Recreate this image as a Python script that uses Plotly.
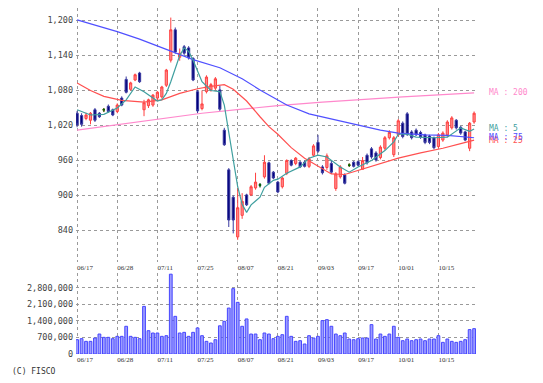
import plotly.graph_objects as go

# ---------------- data ----------------
dates = [
    "06/17", "06/18", "06/19", "06/20", "06/21", "06/24", "06/25", "06/26", "06/27", "06/28",
    "07/01", "07/02", "07/03", "07/04", "07/05", "07/08", "07/09", "07/10", "07/11", "07/12",
    "07/16", "07/17", "07/18", "07/19", "07/22", "07/23", "07/24", "07/25", "07/26", "07/29",
    "07/30", "07/31", "08/01", "08/02", "08/05", "08/06", "08/07", "08/08", "08/09", "08/13",
    "08/14", "08/15", "08/16", "08/19", "08/20", "08/21", "08/22", "08/23", "08/26", "08/27",
    "08/28", "08/29", "08/30", "09/02", "09/03", "09/04", "09/05", "09/06", "09/09", "09/10",
    "09/11", "09/12", "09/13", "09/17", "09/18", "09/19", "09/20", "09/24", "09/25", "09/26",
    "09/27", "09/30", "10/01", "10/02", "10/03", "10/04", "10/07", "10/08", "10/09", "10/10",
    "10/11", "10/15", "10/16", "10/17", "10/18", "10/21", "10/22", "10/23", "10/24", "10/25",
]

opens = [1041, 1037, 1032, 1029, 1047, 1041, 1047, 1053, 1047, 1044,
         1067, 1099, 1082, 1098, 1110, 1047, 1054, 1055, 1067, 1069,
         1089, 1132, 1184, 1137, 1155, 1153, 1135, 1078, 1049, 1078,
         1081, 1084, 1081, 1012, 944, 897, 829, 866, 901, 901,
         913, 918, 932, 956, 940, 923, 915, 938, 960, 955,
         957, 957, 950, 969, 991, 949, 948, 955, 912, 932,
         935, 952, 957, 958, 945, 969, 980, 973, 965, 981,
         999, 970, 1004, 1024, 1040, 1009, 1012, 1008, 1004, 1002,
         999, 984, 995, 1004, 1016, 1029, 1017, 1009, 981, 1026]
highs = [1045, 1041, 1042, 1043, 1050, 1043, 1050, 1056, 1049, 1058,
         1070, 1104, 1095, 1109, 1112, 1064, 1066, 1074, 1079, 1088,
         1117, 1205, 1188, 1152, 1158, 1156, 1137, 1081, 1080, 1106,
         1093, 1103, 1088, 1016, 947, 900, 913, 904, 903, 918,
         939, 921, 969, 958, 942, 925, 932, 962, 962, 966,
         959, 960, 966, 988, 1004, 952, 972, 960, 940, 952,
         938, 955, 959, 960, 966, 972, 983, 976, 986, 1002,
         1012, 1002, 1031, 1027, 1043, 1012, 1015, 1011, 1006, 1004,
         1001, 1007, 1010, 1029, 1036, 1031, 1019, 1011, 1026, 1044]
lows = [1017, 1018, 1029, 1022, 1026, 1033, 1043, 1042, 1036, 1041,
        1053, 1075, 1080, 1096, 1093, 1036, 1050, 1052, 1064, 1066,
        1086, 1128, 1143, 1131, 1141, 1133, 1096, 1041, 1046, 1075,
        1078, 1080, 1045, 985, 846, 835, 824, 860, 882, 899,
        910, 914, 929, 919, 928, 904, 912, 935, 950, 952,
        947, 948, 947, 966, 973, 936, 944, 937, 908, 929,
        919, 949, 948, 950, 945, 953, 963, 958, 962, 978,
        996, 966, 1001, 998, 1002, 996, 1002, 997, 988, 988,
        979, 981, 992, 1000, 1013, 1013, 1004, 993, 976, 1023]
closes = [1021, 1022, 1038, 1041, 1029, 1035, 1047, 1044, 1038, 1055,
          1055, 1077, 1093, 1107, 1095, 1059, 1064, 1072, 1077, 1086,
          1115, 1184, 1146, 1144, 1144, 1136, 1098, 1045, 1057, 1103,
          1090, 1100, 1048, 987, 858, 858, 879, 890, 884, 915,
          923, 918, 957, 921, 930, 906, 930, 960, 952, 964,
          949, 950, 963, 985, 976, 939, 968, 940, 937, 949,
          921, 952, 950, 952, 960, 956, 966, 961, 983, 999,
          1008, 999, 1028, 1001, 1005, 999, 1004, 1000, 991, 991,
          982, 1004, 1007, 1026, 1033, 1016, 1007, 995, 1024, 1041]

volumes = [604000, 647000, 534000, 534000, 675000, 843000, 703000, 703000, 647000, 745000,
           745000, 1170000, 745000, 703000, 647000, 2010000, 984000, 886000, 886000, 745000,
           773000, 3370000, 1590000, 886000, 914000, 745000, 914000, 1100000, 773000, 534000,
           464000, 604000, 1190000, 1380000, 1940000, 2760000, 2180000, 1170000, 1480000, 843000,
           843000, 604000, 886000, 843000, 647000, 745000, 815000, 1590000, 745000, 534000,
           562000, 422000, 773000, 675000, 745000, 1410000, 1450000, 1170000, 843000, 773000,
           886000, 633000, 604000, 647000, 675000, 675000, 1240000, 633000, 843000, 745000,
           843000, 1170000, 703000, 562000, 633000, 562000, 604000, 633000, 562000, 633000,
           633000, 773000, 492000, 633000, 534000, 492000, 534000, 604000, 1030000, 1070000]

# moving averages read at sample days (day index into `dates`)
ma5_days = [0, 3, 6, 9, 11, 13, 15, 18, 19, 20, 21, 23, 24, 25, 26, 27, 28, 30, 32, 33,
            34, 35, 36, 37, 38, 39, 41, 42, 44, 45, 47, 50, 52, 54, 56, 59, 61, 63, 66, 69,
            71, 72, 74, 76, 80, 83, 86, 88, 89]
ma5_vals = [1047, 1038, 1039, 1050, 1064, 1086, 1078, 1062, 1064, 1075, 1095, 1140, 1153, 1147, 1132, 1112, 1095, 1080, 1078, 1055,
            1010, 960, 915, 885, 871, 884, 897, 914, 926, 928, 938, 949, 964, 969, 966, 949, 940, 949, 960, 977,
            992, 1005, 1005, 1000, 999, 1000, 1016, 1010, 1014]

ma25_days = [0, 3, 6, 10, 15, 19, 23, 27, 30, 33, 35, 38, 41, 43, 45, 48, 51, 54, 57, 60,
             63, 67, 72, 77, 82, 86, 89]
ma25_vals = [1093, 1080, 1070, 1063, 1060, 1064, 1075, 1083, 1087, 1090, 1082, 1062, 1035, 1018, 1005, 982, 964, 951, 937, 936,
             943, 952, 964, 973, 981, 989, 995]

ma75_days = [0, 5, 9, 14, 20, 26, 32, 37, 41, 45, 47, 52, 56, 60, 64, 68, 72, 78, 83, 87, 89]
ma75_vals = [1201, 1190, 1181, 1168, 1150, 1133, 1119, 1100, 1081, 1064, 1055, 1040, 1033, 1026, 1019, 1012, 1007, 1004, 1003, 1000, 999]

ma200_days = [0, 10, 21, 28, 37, 45, 55, 64, 73, 82, 89]
ma200_vals = [1012, 1022, 1033, 1041, 1048, 1054, 1060, 1065, 1069, 1073, 1076]

tick_dates = ["06/17", "06/28", "07/11", "07/25", "08/07", "08/21", "09/03", "09/17", "10/01", "10/15"]
price_ticks = [840, 900, 960, 1020, 1080, 1140, 1200]
volume_ticks = [0, 700000, 1400000, 2100000, 2800000]

# ---------------- figure ----------------
idx = list(range(len(dates)))
doji = [i for i in idx if closes[i] == opens[i]]
tickvals = [dates.index(d) for d in tick_dates]

MONO = "DejaVu Sans Mono"
C_MA5 = "#3f9f9f"
C_MA25 = "#ff5050"
C_MA75 = "#5050ff"
C_MA200 = "#ff88cc"

fig = go.Figure()

fig.add_trace(go.Candlestick(
    x=idx, open=opens, high=highs, low=lows, close=closes,
    increasing=dict(line=dict(color="#ff4040", width=1), fillcolor="#ff8c8c"),
    decreasing=dict(line=dict(color="#3a3aa0", width=1), fillcolor="#00007a"),
    whiskerwidth=0, xaxis="x", yaxis="y", showlegend=False,
))
fig.add_trace(go.Candlestick(
    x=doji, open=[opens[i] for i in doji], high=[highs[i] for i in doji],
    low=[lows[i] for i in doji], close=[closes[i] for i in doji],
    increasing=dict(line=dict(color="#006a00", width=1), fillcolor="#006a00"),
    decreasing=dict(line=dict(color="#006a00", width=1), fillcolor="#006a00"),
    whiskerwidth=0, xaxis="x", yaxis="y", showlegend=False,
))

for days, vals, col in [(ma200_days, ma200_vals, C_MA200), (ma75_days, ma75_vals, C_MA75),
                        (ma25_days, ma25_vals, C_MA25), (ma5_days, ma5_vals, C_MA5)]:
    fig.add_trace(go.Scatter(x=days, y=vals, mode="lines", line=dict(color=col, width=1.2),
                             xaxis="x", yaxis="y", showlegend=False, hoverinfo="skip"))

fig.add_trace(go.Bar(
    x=idx, y=volumes, width=0.62,
    marker=dict(color="#9c9cff", line=dict(color="#4646ff", width=1)),
    xaxis="x2", yaxis="y2", showlegend=False,
))

grid = dict(showgrid=True, gridcolor="#9a9a9a", gridwidth=1, griddash="dot",
            zeroline=False, showline=False, ticks="")
date_font = dict(size=7, family=MONO + " Bold", color="#333333")

# the page body adds an 8px offset, so the figure is 8px smaller than the window
fig.update_layout(
    width=535, height=375,
    margin=dict(l=68, r=66, t=0, b=29),
    paper_bgcolor="white", plot_bgcolor="white",
    font=dict(family=MONO, color="#333333"),
    xaxis=dict(domain=[0, 1], anchor="y", range=[-0.25, 89.65], tickvals=tickvals, ticktext=tick_dates,
               tickfont=date_font, ticklabelposition="outside right",
               rangeslider=dict(visible=False), ticklabelstandoff=0, **grid),
    xaxis2=dict(domain=[0, 1], anchor="y2", matches="x", tickvals=tickvals, ticktext=tick_dates,
                tickfont=date_font, ticklabelposition="outside right",
                ticklabelstandoff=0, **grid),
    yaxis=dict(domain=[0.2659, 1], range=[786, 1221.4], tickvals=price_ticks, tickformat=",d",
               tickfont=dict(size=8.5, color="#444444"), ticklabelstandoff=2, **grid),
    yaxis2=dict(domain=[0, 0.2341], range=[0, 3420000], tickvals=volume_ticks, tickformat=",d",
                tickfont=dict(size=8.5, color="#444444"), ticklabelstandoff=2, **grid),
)

labels = [("MA : 200", ma200_vals[-1], C_MA200), ("MA : 5", ma5_vals[-1], C_MA5),
          ("MA : 25", ma25_vals[-1], C_MA25), ("MA : 75", ma75_vals[-1], C_MA75)]
for text, yv, col in labels:
    fig.add_annotation(text=text, x=1.025, xref="paper", y=yv, yref="y", xanchor="left",
                       yanchor="middle", showarrow=False, font=dict(size=8, color=col, family=MONO))

fig.add_annotation(text="(C) FISCO", x=-0.165, xref="paper", y=-0.052, yref="paper",
                   xanchor="left", yanchor="middle", showarrow=False,
                   font=dict(size=8, color="#333333", family=MONO))

fig.write_html("out.html")
